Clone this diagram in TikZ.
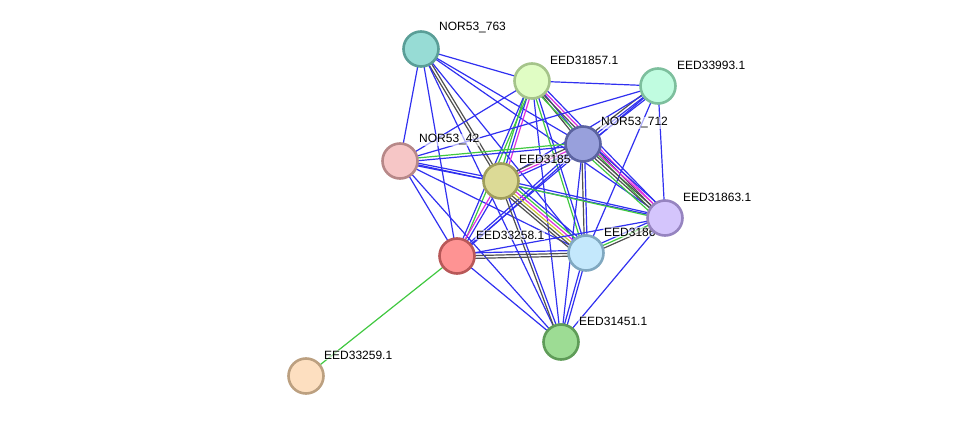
\documentclass[tikz,border=0pt]{standalone}
\usepackage{fontspec}
\setmainfont{Liberation Sans}
\usetikzlibrary{calc}
\pgfdeclarelayer{edges}
\pgfdeclarelayer{labels}
\pgfsetlayers{edges,labels,main}
\definecolor{blueE}{HTML}{3030F0}
\definecolor{greenE}{HTML}{40C840}
\definecolor{grayE}{HTML}{505050}
\definecolor{magE}{HTML}{E030E0}
\definecolor{yelE}{HTML}{C8C832}
\tikzset{
  eb/.style={draw=blueE, line width=1.2pt},
  eg/.style={draw=greenE, line width=1.2pt},
  ek/.style={draw=grayE, line width=1.2pt},
  em/.style={draw=magE, line width=1.2pt},
  ey/.style={draw=yelE, line width=1.2pt},
  prot/.style={circle, minimum size=35pt, inner sep=0pt, line width=2.6pt},
  lbl/.style={anchor=west, inner sep=1pt, fill=white, fill opacity=0.6, text opacity=1, font=\fontsize{12}{14}\selectfont}
}
\newcommand\medge[3]{%
  \begin{pgfonlayer}{edges}
  \foreach \c [count=\i] in {#3} {\xdef\ncount{\i}}
  \foreach \c [count=\i] in {#3} {
    \pgfmathsetmacro\off{(\i-(\ncount+1)/2)*2.8}
    \draw[\c] ($(#1.center)!\off pt!90:(#2.center)$) -- ($(#2.center)!\off pt!-90:(#1.center)$);
  }
  \end{pgfonlayer}}
\begin{document}
\begin{tikzpicture}[x=1pt,y=-1pt]
\useasboundingbox (0,0) rectangle (975,422);
% nodes
\node[prot, fill={rgb,255:red,151;green,220;blue,213}, draw={rgb,255:red,90;green,158;blue,151}] (A) at (421,49) {};
\node[prot, fill={rgb,255:red,224;green,253;blue,196}, draw={rgb,255:red,165;green,196;blue,138}] (B) at (532,81) {};
\node[prot, fill={rgb,255:red,192;green,252;blue,224}, draw={rgb,255:red,125;green,191;blue,157}] (C) at (658,86) {};
\node[prot, fill={rgb,255:red,152;green,160;blue,220}, draw={rgb,255:red,91;green,99;blue,160}] (D) at (583,144) {};
\node[prot, fill={rgb,255:red,246;green,198;blue,198}, draw={rgb,255:red,183;green,136;blue,136}] (E) at (400,161) {};
\node[prot, fill={rgb,255:red,220;green,218;blue,150}, draw={rgb,255:red,160;green,158;blue,91}] (F) at (501,181) {};
\node[prot, fill={rgb,255:red,212;green,197;blue,252}, draw={rgb,255:red,150;green,132;blue,192}] (G) at (665,218) {};
\node[prot, fill={rgb,255:red,254;green,147;blue,147}, draw={rgb,255:red,184;green,88;blue,88}] (H) at (457,256) {};
\node[prot, fill={rgb,255:red,196;green,232;blue,252}, draw={rgb,255:red,128;green,168;blue,192}] (I) at (586,253) {};
\node[prot, fill={rgb,255:red,157;green,220;blue,148}, draw={rgb,255:red,95;green,156;blue,88}] (J) at (561,342) {};
\node[prot, fill={rgb,255:red,253;green,223;blue,192}, draw={rgb,255:red,188;green,160;blue,128}] (K) at (306,376) {};
% labels
\begin{pgfonlayer}{labels}
\node[lbl] (lA) at (438,28) {NOR53\_763};
\node[lbl] (lB) at (549,60) {EED31857.1};
\node[lbl] (lC) at (676,65) {EED33993.1};
\node[lbl] (lD) at (600,123) {NOR53\_712};
\node[lbl] (lE) at (418,140) {NOR53\_42};
\node[lbl] (lF) at (518,159) {EED3185};
\node[lbl] (lG) at (682,197) {EED31863.1};
\node[lbl] (lH) at (475,235) {EED33258.1};
\node[lbl] (lI) at (603,232) {EED3186};
\node[lbl] (lJ) at (578,321) {EED31451.1};
\node[lbl] (lK) at (323,355) {EED33259.1};
\end{pgfonlayer}
% edges
\medge{H}{K}{eg}
\medge{A}{B}{eb}
\medge{A}{E}{eb}
\medge{A}{H}{eb}
\medge{A}{F}{ek,ek}
\medge{A}{D}{eb}
\medge{A}{G}{eb}
\medge{A}{I}{eb}
\medge{A}{J}{eb}
\medge{B}{C}{eb}
\medge{B}{E}{eb}
\medge{B}{F}{eg,eb,em}
\medge{B}{H}{eb,eg}
\medge{B}{D}{ek,eb}
\medge{B}{G}{eg,ek,em,eb}
\medge{B}{I}{eg,eb}
\medge{B}{J}{eb}
\medge{C}{D}{ek,eb,eb}
\medge{C}{E}{eb}
\medge{C}{F}{eb}
\medge{C}{H}{eb}
\medge{C}{I}{eb}
\medge{C}{G}{eb}
\medge{D}{E}{eg,eb}
\medge{D}{F}{ek,em,eb}
\medge{D}{G}{eg,ek,ek,em,eb}
\medge{D}{H}{eb,eb}
\medge{D}{I}{ek,eb}
\medge{D}{J}{eb}
\medge{E}{F}{eb,eb}
\medge{E}{G}{eb}
\medge{E}{H}{eb}
\medge{E}{I}{eb}
\medge{E}{J}{eb}
\medge{F}{G}{eg,eb}
\medge{F}{H}{em,eb}
\medge{F}{I}{ek,ek,ey,em,eg,eb}
\medge{F}{J}{ek,eb}
\medge{G}{I}{eb,eg,ek}
\medge{G}{H}{eb}
\medge{G}{J}{eb}
\medge{H}{I}{ek,ek,eb}
\medge{H}{J}{eb}
\medge{I}{J}{eb,eb}
\end{tikzpicture}
\end{document}
